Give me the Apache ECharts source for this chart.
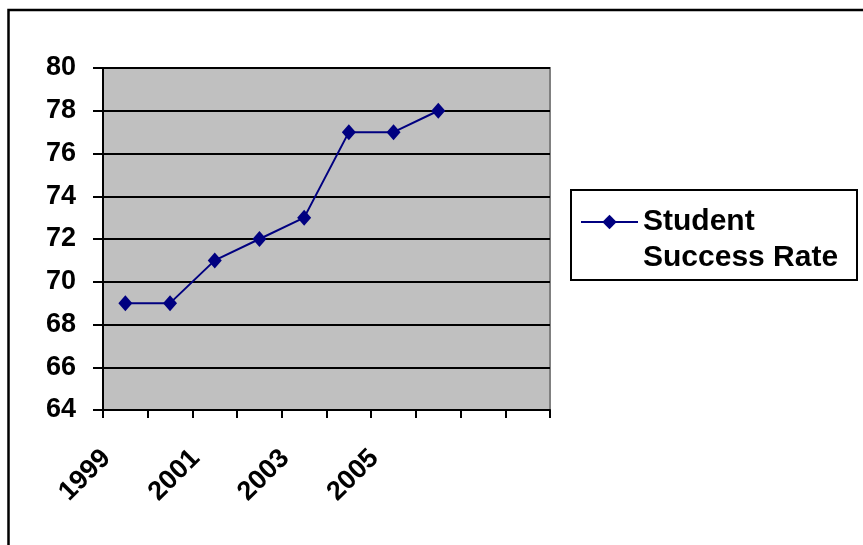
<!DOCTYPE html>
<html>
<head>
<meta charset="utf-8">
<script src="https://cdn.jsdelivr.net/npm/echarts@6/dist/echarts.min.js"></script>
<style>
html,body{margin:0;padding:0;background:#fff;}
#main{width:863px;height:545px;}
</style>
</head>
<body>
<div id="main"></div>
<script>
// categories (last two slots are empty on the original axis)
var years = ['1999', '2000', '2001', '2002', '2003', '2004', '2005', '2006', '', ''];
var successRate = [69, 69, 71, 72, 73, 77, 77, 78];
var seriesName = 'Student\nSuccess Rate';

var chart = echarts.init(document.getElementById('main'));
var font = 'Arial, "Liberation Sans", sans-serif';

var option = {
    backgroundColor: '#fff',
    animation: false,
    grid: {
        left: 103, top: 68, right: 313, bottom: 135,
        show: true,
        backgroundColor: '#c0c0c0',
        borderColor: '#808080',
        borderWidth: 2
    },
    legend: {
        data: [seriesName],
        left: 575, top: 163,
        itemWidth: 57, itemHeight: 18,
        itemGap: 0,
        lineStyle: { width: 2, color: '#000080' },
        // blank first line so the icon sits beside "Student"
        formatter: function (name) { return ' \n' + name; },
        textStyle: {
            fontFamily: font, fontWeight: 'bold', fontSize: 30, color: '#000',
            lineHeight: 36
        }
    },
    xAxis: {
        type: 'category',
        data: years,
        boundaryGap: true,
        axisLine: { lineStyle: { color: '#000', width: 2 } },
        axisTick: { show: true, interval: 0, length: 8, lineStyle: { color: '#000', width: 2 } },
        axisLabel: {
            interval: 1,
            rotate: 45,
            margin: 25,
            padding: [0, 27, 0, 0],
            fontFamily: font, fontWeight: 'bold', fontSize: 27, color: '#000'
        },
        splitLine: { show: false }
    },
    yAxis: {
        type: 'value',
        min: 64, max: 80, interval: 2,
        axisLine: { show: true, lineStyle: { color: '#000', width: 2 } },
        axisTick: { show: true, length: 10, lineStyle: { color: '#000', width: 2 } },
        axisLabel: {
            margin: 27,
            fontFamily: font, fontWeight: 'bold', fontSize: 27, color: '#000'
        },
        splitLine: { show: true, lineStyle: { color: '#000', width: 2 } }
    },
    series: [{
        name: seriesName,
        type: 'line',
        data: successRate,
        symbol: 'diamond',
        symbolSize: [14, 16],
        itemStyle: { color: '#000080' },
        lineStyle: { color: '#000080', width: 2 }
    }],
    graphic: [
        {   // outer chart frame
            type: 'rect', silent: true,
            shape: { x: 8.5, y: 10, width: 900, height: 600 },
            style: { fill: null, stroke: '#000', lineWidth: 2.5 }
        },
        {   // legend box
            type: 'rect', silent: true,
            shape: { x: 571, y: 190, width: 286, height: 90 },
            style: { fill: null, stroke: '#000', lineWidth: 2 }
        }
    ]
};
chart.setOption(option);
</script>
</body>
</html>
